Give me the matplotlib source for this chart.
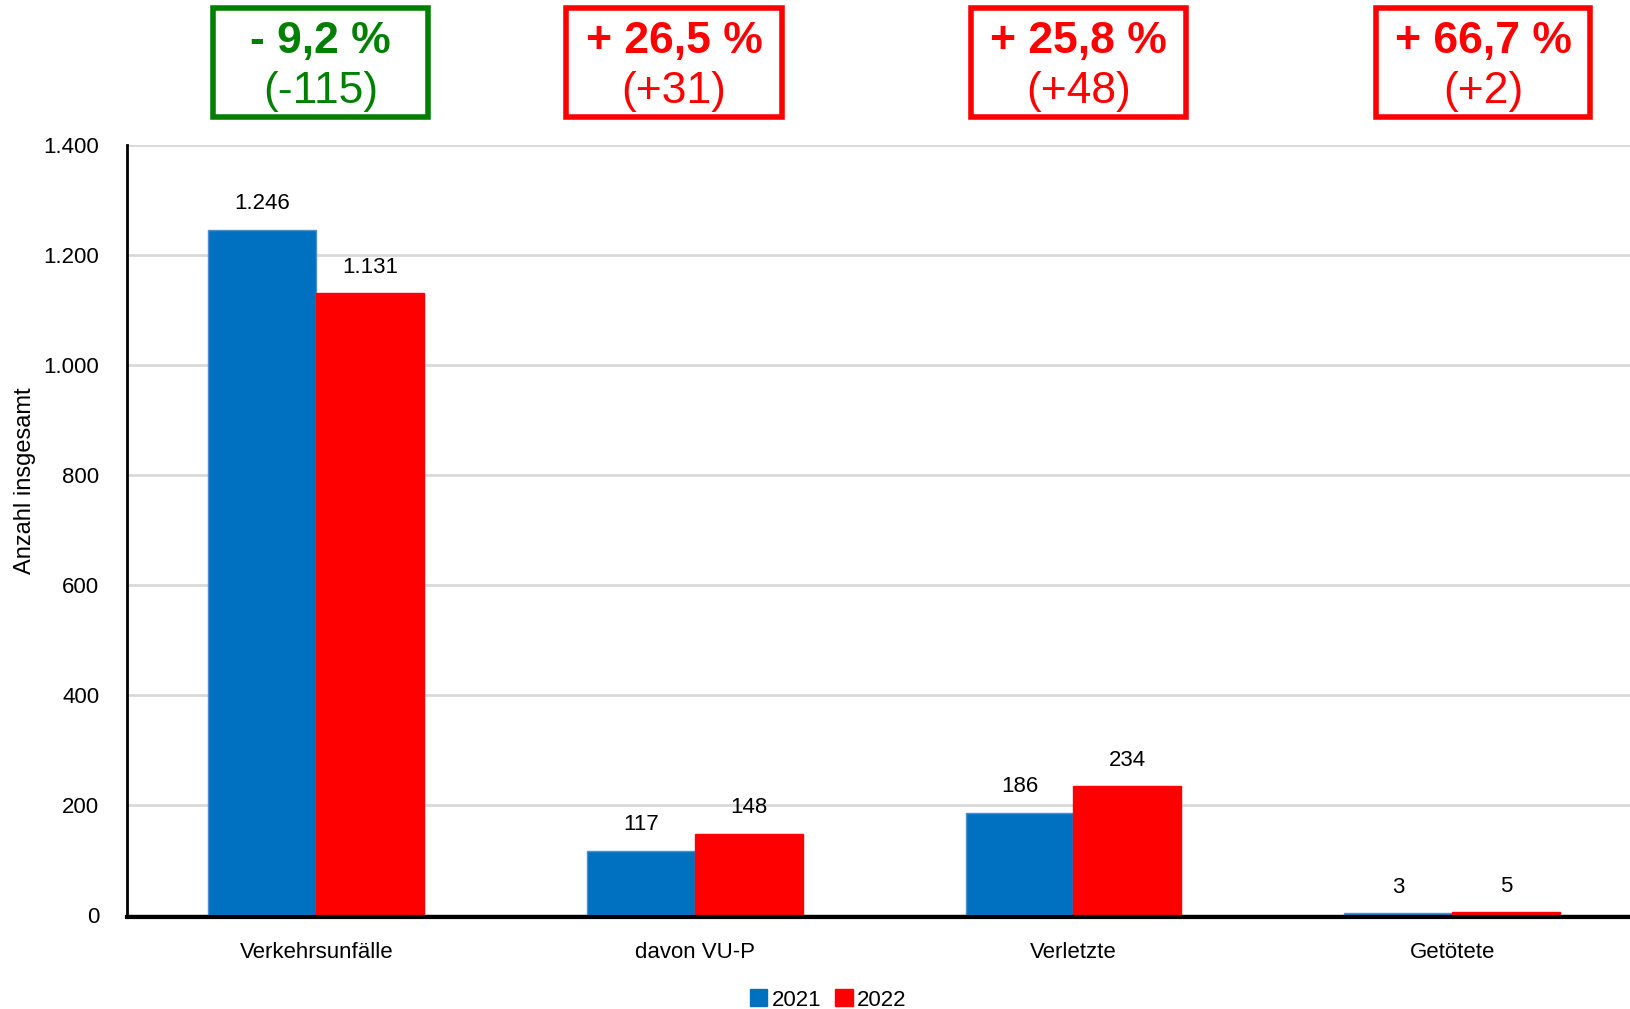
import matplotlib.pyplot as plt
import matplotlib.patches as mpatches
from matplotlib.ticker import FuncFormatter

kategorien = ['Verkehrsunfälle', 'davon VU-P', 'Verletzte', 'Getötete']
werte_2021 = [1246, 117, 186, 3]
werte_2022 = [1131, 148, 234, 5]
prozent = ['- 9,2 %', '+ 26,5 %', '+ 25,8 %', '+ 66,7 %']
differenz = ['(-115)', '(+31)', '(+48)', '(+2)']
box_farben = ['#008000', '#FF0000', '#FF0000', '#FF0000']

plt.rcParams['font.family'] = ['Liberation Sans', 'DejaVu Sans']

fig = plt.figure(figsize=(16.3, 10.09), dpi=100)
ax = fig.add_axes([127 / 1630, 1 - 915 / 1009, 1 - 127 / 1630, 770 / 1009])

x = range(len(kategorien))
b = 0.285
bars1 = ax.bar([i - b / 2 for i in x], werte_2021, b, color='#0070C0',
               edgecolor='#4F8FD0', linewidth=1, label='2021', zorder=3)
bars2 = ax.bar([i + b / 2 for i in x], werte_2022, b, color='#FF0000',
               edgecolor='#FF0000', linewidth=1, label='2022', zorder=3)

def de(v, pos=None):
    return f'{int(v):,}'.replace(',', '.')

for bars in (bars1, bars2):
    for r in bars:
        ax.annotate(de(r.get_height()), (r.get_x() + r.get_width() / 2, r.get_height()),
                    xytext=(0, 11), textcoords='offset points', ha='center', va='bottom',
                    fontsize=16)

ax.set_ylim(0, 1400)
ax.set_xlim(-0.5, 3.47)
ax.set_yticks(range(0, 1401, 200))
ax.yaxis.set_major_formatter(FuncFormatter(de))
ax.set_xticks(list(x))
ax.set_xticklabels(kategorien, fontsize=16)
ax.tick_params(axis='both', length=0, labelsize=16)
ax.tick_params(axis='x', pad=18)
ax.tick_params(axis='y', pad=20)
ax.grid(axis='y', color='#D9D9D9', linewidth=2, zorder=0)
ax.spines['top'].set_visible(False)
ax.spines['right'].set_visible(False)
ax.spines['left'].set_linewidth(2)
ax.spines['bottom'].set_linewidth(3)
ax.spines['bottom'].set_position(('outward', 1.2))
ax.spines['bottom'].set_zorder(4)

fig.text(25 / 1630, 1 - 481 / 1009, 'Anzahl insgesamt', rotation=90,
         ha='center', va='center', fontsize=17)

fig.legend(handles=[mpatches.Patch(color='#0070C0', label='2021'),
                    mpatches.Patch(color='#FF0000', label='2022')],
           loc='center', bbox_to_anchor=(828 / 1630, 1 - 1000 / 1009), ncol=2,
           frameon=False, fontsize=16, handlelength=0.8, handleheight=0.8,
           handletextpad=0.2, columnspacing=0.6)

# Kästen oben mit Veränderung
boxen = [(213, 428), (566, 782), (971, 1186), (1376, 1590)]
for (x0, x1), p, d, c in zip(boxen, prozent, differenz, box_farben):
    fig.patches.append(mpatches.Rectangle((x0 / 1630, 1 - 117 / 1009), (x1 - x0) / 1630,
                                          109 / 1009, transform=fig.transFigure,
                                          fill=False, edgecolor=c, linewidth=4))
    xm = (x0 + x1) / 2 / 1630
    fig.text(xm, 1 - 41 / 1009, p, ha='center', va='center', color=c,
             fontsize=32, fontweight='bold')
    fig.text(xm, 1 - 92 / 1009, d, ha='center', va='center', color=c, fontsize=32)

fig.savefig('out.png', dpi=100)
